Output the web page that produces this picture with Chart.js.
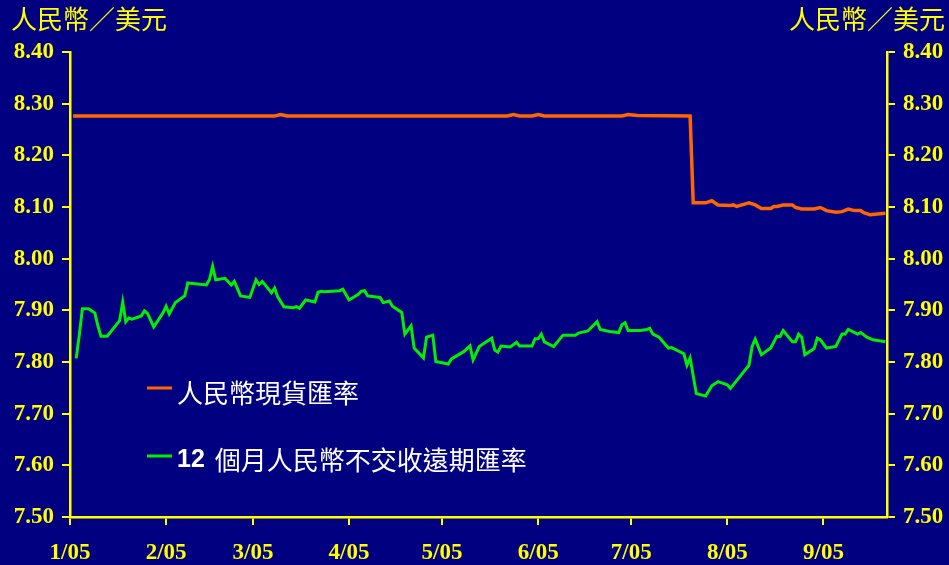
<!DOCTYPE html>
<html>
<head>
<meta charset="utf-8">
<script src="https://cdn.jsdelivr.net/npm/chart.js@4/dist/chart.umd.min.js"></script>
<style>
  html, body { margin: 0; padding: 0; background: #000080; }
  #wrap { width: 949px; height: 565px; position: relative; }
</style>
</head>
<body>
<div id="wrap"><canvas id="koers"></canvas></div>
<script>
// dag 0 = 1 januari 2005
const maandStart = [0, 31, 59, 90, 120, 151, 181, 212, 243];
const maandLabels = ['1/05', '2/05', '3/05', '4/05', '5/05', '6/05', '7/05', '8/05', '9/05'];
const yTicks = [7.5, 7.6, 7.7, 7.8, 7.9, 8.0, 8.1, 8.2, 8.3, 8.4];

const asTitel = '人民幣／美元';
const spotLabel = '人民幣現貨匯率';
const ndfLabel = '12 個月人民幣不交收遠期匯率';

// spot koers
const spotDagen = [1, 66, 68, 70, 141, 143, 145, 149, 151, 153, 178, 180, 183, 200,
  201, 205, 207, 209, 213, 214, 215, 219, 221, 223, 226, 227, 228, 230, 233, 234, 236,
  240, 242, 244, 247, 249, 251, 253, 255, 256, 258, 263];
const spotKoers = [8.276, 8.276, 8.279, 8.276, 8.276, 8.279, 8.276, 8.276, 8.279, 8.276, 8.276, 8.279, 8.277, 8.276,
  8.108, 8.108, 8.112, 8.104, 8.103, 8.104, 8.101, 8.108, 8.104, 8.097, 8.097, 8.101, 8.101, 8.104, 8.104, 8.099, 8.096,
  8.096, 8.099, 8.093, 8.090, 8.091, 8.096, 8.093, 8.093, 8.089, 8.085, 8.088];

// 12 maanden NDF
const ndfDagen = [2, 3, 4, 6, 8, 9, 10, 12, 16, 17, 18, 19, 20, 23, 24, 25, 27, 30, 31, 32,
  34, 37, 38, 44, 45, 46, 47, 50, 52, 53, 55, 58, 60, 61, 62, 65, 66, 67, 69, 72,
  73, 74, 76, 79, 80, 81, 82, 87, 88, 90, 93, 94, 95, 96, 100, 101, 103, 104, 107, 108,
  110, 111, 114, 115, 117, 118, 122, 123, 127, 129, 130, 132, 136, 137, 138, 139, 142, 144, 145, 149,
  150, 151, 152, 153, 156, 159, 163, 164, 167, 170, 171, 174, 177, 178, 179, 180, 184, 186, 187, 188,
  190, 193, 194, 198, 199, 200, 202, 205, 207, 209, 212, 213, 219, 220, 221, 223, 226, 228, 229, 230,
  233, 234, 235, 236, 237, 240, 241, 242, 244, 247, 249, 250, 251, 254, 255, 257, 259, 263];
const ndfKoers = [7.807, 7.852, 7.903, 7.903, 7.895, 7.870, 7.850, 7.850, 7.880, 7.916, 7.878, 7.885, 7.883, 7.889, 7.899, 7.894, 7.868, 7.895, 7.908, 7.893,
  7.915, 7.928, 7.953, 7.949, 7.960, 7.985, 7.959, 7.962, 7.949, 7.956, 7.928, 7.925, 7.959, 7.950, 7.956, 7.934, 7.943, 7.926, 7.907, 7.905,
  7.907, 7.904, 7.920, 7.916, 7.935, 7.937, 7.936, 7.938, 7.941, 7.920, 7.931, 7.937, 7.938, 7.928, 7.925, 7.915, 7.918, 7.908, 7.896, 7.854,
  7.870, 7.827, 7.808, 7.848, 7.852, 7.801, 7.796, 7.806, 7.820, 7.831, 7.804, 7.830, 7.846, 7.823, 7.819, 7.831, 7.829, 7.838, 7.831, 7.831,
  7.845, 7.845, 7.854, 7.839, 7.830, 7.852, 7.852, 7.856, 7.860, 7.878, 7.863, 7.859, 7.857, 7.872, 7.876, 7.861, 7.861, 7.863, 7.865, 7.854,
  7.848, 7.827, 7.828, 7.816, 7.794, 7.808, 7.739, 7.734, 7.754, 7.762, 7.756, 7.749, 7.794, 7.830, 7.844, 7.814, 7.827, 7.850, 7.849, 7.861,
  7.839, 7.839, 7.854, 7.848, 7.814, 7.826, 7.846, 7.843, 7.827, 7.830, 7.854, 7.854, 7.863, 7.854, 7.857, 7.848, 7.843, 7.839];

const GEEL = '#ffff00';
const ORANJE = '#ff6600';
const GROEN = '#00f000';
const CJK = '"Noto Sans CJK TC", "Noto Sans", sans-serif';

// achtergrond, astitels en legenda zelf tekenen
const extraTekst = {
  id: 'extraTekst',
  beforeDraw(chart) {
    const c = chart.ctx;
    c.save();
    c.fillStyle = '#000080';
    c.fillRect(0, 0, chart.width, chart.height);
    c.restore();
  },
  afterDraw(chart) {
    const c = chart.ctx;
    c.save();
    c.font = '26px ' + CJK;
    c.fillStyle = GEEL;
    c.textBaseline = 'middle';
    c.textAlign = 'left';
    c.fillText(asTitel, 11, 19);
    c.textAlign = 'right';
    c.fillText(asTitel, 945, 19);

    // legenda
    c.textAlign = 'left';
    c.lineWidth = 3;
    c.strokeStyle = ORANJE;
    c.beginPath(); c.moveTo(147, 388); c.lineTo(172, 388); c.stroke();
    c.strokeStyle = GROEN;
    c.beginPath(); c.moveTo(147, 456); c.lineTo(172, 456); c.stroke();

    c.fillStyle = '#ffffff';
    c.font = '26px ' + CJK;
    c.fillText(spotLabel, 177, 393);
    const delen = ndfLabel.split(' ');
    c.font = 'bold 25px "Liberation Sans", Arial, sans-serif';
    c.fillText(delen[0], 177, 460);
    const w = c.measureText(delen[0] + ' ').width;
    c.font = '26px ' + CJK;
    c.fillText(delen.slice(1).join(' '), 177 + w + 3, 460);
    c.restore();
  }
};

const tickFont = { family: '"Liberation Serif", "Times New Roman", serif', size: 23, weight: 'bold' };

function yAs(positie, breedte) {
  return {
    type: 'linear',
    position: positie,
    min: 7.5,
    max: 8.4,
    afterBuildTicks: (as) => { as.ticks = yTicks.map(v => ({ value: v })); },
    afterFit: (as) => { as.width = breedte; },
    ticks: {
      color: GEEL,
      font: tickFont,
      padding: 8,
      callback: (v) => Number(v).toFixed(2)
    },
    grid: { drawOnChartArea: false, color: GEEL, lineWidth: 2, tickLength: 8 },
    border: { color: GEEL, width: 2.5 }
  };
}

const ctx = document.getElementById('koers');
const grafiek = new Chart(ctx, {
  type: 'line',
  data: {
    datasets: [
      {
        label: spotLabel,
        data: spotDagen.map((d, i) => ({ x: d, y: spotKoers[i] })),
        borderColor: ORANJE,
        borderWidth: 3.5,
        pointRadius: 0,
        tension: 0,
        yAxisID: 'y'
      },
      {
        label: ndfLabel,
        data: ndfDagen.map((d, i) => ({ x: d, y: ndfKoers[i] })),
        borderColor: GROEN,
        borderWidth: 3,
        pointRadius: 0,
        tension: 0,
        yAxisID: 'y'
      }
    ]
  },
  options: {
    responsive: true,
    maintainAspectRatio: false,
    animation: false,
    layout: { padding: { top: 52, left: 0, right: 0, bottom: 0 } },
    plugins: { legend: { display: false }, tooltip: { enabled: false } },
    scales: {
      x: {
        type: 'linear',
        min: 0,
        max: 263.5,
        afterBuildTicks: (as) => { as.ticks = maandStart.map(v => ({ value: v })); },
        afterFit: (as) => { as.height = 48; },
        ticks: {
          color: GEEL,
          font: tickFont,
          padding: 14,
          autoSkip: false,
          maxRotation: 0,
          callback: (v, i) => maandLabels[i]
        },
        grid: { drawOnChartArea: false, color: GEEL, lineWidth: 2, tickLength: 8 },
        border: { color: GEEL, width: 2.5 }
      },
      y: yAs('left', 70),
      y2: yAs('right', 62)
    }
  },
  plugins: [extraTekst]
});
</script>
</body>
</html>
